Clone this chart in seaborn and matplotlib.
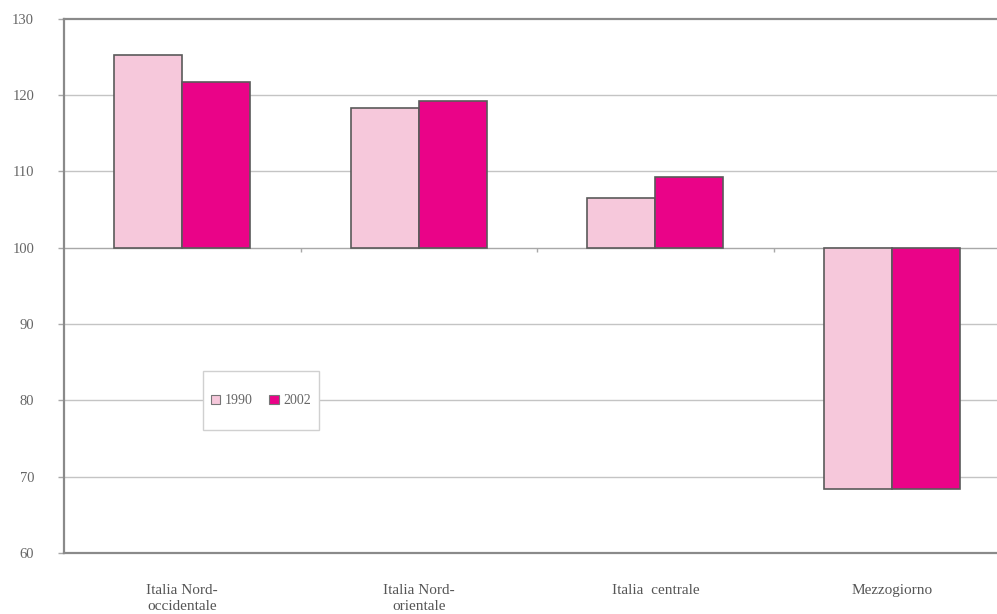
import numpy as np
import pandas as pd
import matplotlib.pyplot as plt
from matplotlib.patches import Patch, Rectangle
import seaborn as sns

# Data
regions = ["Italia Nord-\noccidentale", "Italia Nord-\norientale", "Italia  centrale", "Mezzogiorno"]
years = ["1990", "2002"]
val_1990 = [125.3, 118.3, 106.5, 68.4]
val_2002 = [121.7, 119.2, 109.3, 68.4]
base = 100
yticks = [60, 70, 80, 90, 100, 110, 120, 130]
colors = ["#F6C8DB", "#EA0388"]

df = pd.DataFrame({
    "region": regions * 2,
    "year": [years[0]] * 4 + [years[1]] * 4,
    "value": val_1990 + val_2002,
})
df["diff"] = df["value"] - base

sns.set_style("white")
plt.rcParams["font.family"] = ["Liberation Serif", "DejaVu Serif"]

fig = plt.figure(figsize=(9.97, 6.14), dpi=100)
ax = fig.add_axes([0.0642, 0.0993, 0.949, 0.870])

for y in yticks:
    if y not in (60, 130):
        ax.axhline(y, color="#c4c4c4" if y != base else "#a8a8a8", lw=1.0, zorder=0)

sns.barplot(data=df, x="region", y="diff", hue="year", palette=colors,
            saturation=1, width=0.575, bottom=base, edgecolor="#5a5a5a",
            linewidth=1.2, legend=False, ax=ax, zorder=2)

# small ticks on the base line between categories
ax.vlines(np.arange(len(regions) - 1) + 0.5, base - 0.5, base, color="#a8a8a8", lw=1)

ax.set_xlim(-0.5, len(regions) - 0.5)
ax.set_ylim(60, 130)
ax.set_yticks(yticks)
ax.set_yticklabels([str(t) for t in yticks])
ax.set_xlabel("")
ax.set_ylabel("")

for side in ["left", "bottom", "top"]:
    ax.spines[side].set_visible(True)
    ax.spines[side].set_color("#8a8a8a")
    ax.spines[side].set_linewidth(1.6)
ax.spines["right"].set_visible(False)

ax.tick_params(axis="y", left=True, length=4.5, width=1, color="#a8a8a8",
               labelsize=10.5, labelcolor="#666666", pad=17)
ax.tick_params(axis="x", bottom=False, labelsize=11, labelcolor="#555555", pad=19)
for lab in ax.get_yticklabels():
    lab.set_horizontalalignment("right")
for lab in ax.get_xticklabels():
    lab.set_linespacing(1.3)

# legend: no own frame, a wider-than-tall box drawn round it afterwards
handles = [Patch(facecolor=c, edgecolor="#777777", lw=0.8) for c in colors]
leg = ax.legend(handles, years, loc="center", bbox_to_anchor=(0.208, 0.285),
                ncol=2, frameon=False, fontsize=10,
                handlelength=0.7, handleheight=0.7, handletextpad=0.3,
                columnspacing=1.2, borderpad=0.3, borderaxespad=0)
leg.set_zorder(5)
for t in leg.get_texts():
    t.set_color("#666666")

fig.canvas.draw()
bb = leg.get_window_extent()
(x0, y0), (x1, y1) = ax.transAxes.inverted().transform(
    [[bb.x0 - 4, bb.y0 - 19], [bb.x1 + 4, bb.y1 + 19]])
ax.add_patch(Rectangle((x0, y0), x1 - x0, y1 - y0, transform=ax.transAxes,
                       facecolor="white", edgecolor="#d0d0d0", lw=1, zorder=4))

fig.savefig("out.png", dpi=100)
